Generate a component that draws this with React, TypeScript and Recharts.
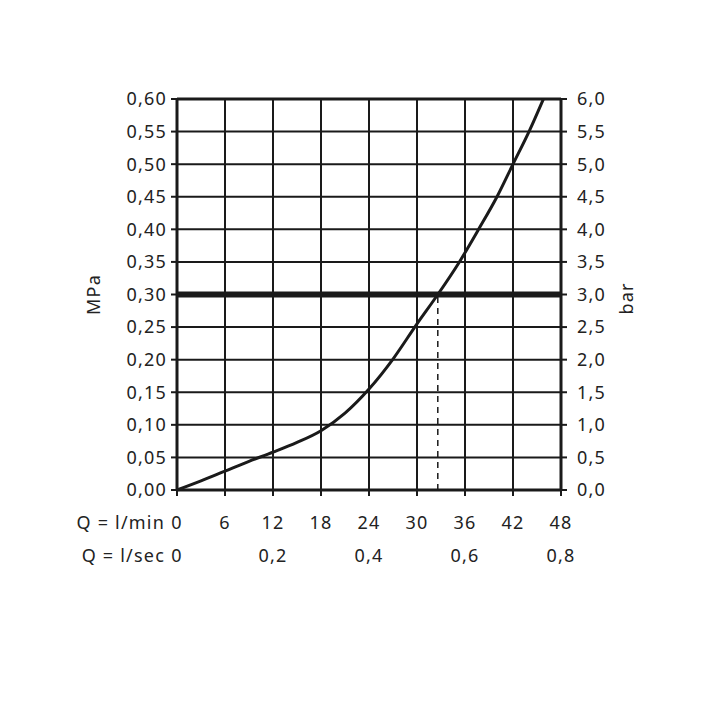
import React from "react";
import {
  LineChart, Line, XAxis, YAxis, CartesianGrid, ReferenceLine,
} from "recharts";

// flow (l/min) vs. pressure loss (MPa)
const flowLmin = [0, 3, 6, 9, 12, 15, 18, 21, 24, 27, 30, 32.6, 35.3, 37.7, 40.0, 42.0, 44.0, 45.8];
const pressureMPa = [0, 0.014, 0.029, 0.044, 0.058, 0.073, 0.091, 0.118, 0.155, 0.201, 0.255, 0.3, 0.35, 0.4, 0.45, 0.5, 0.55, 0.6];

const minTicks = [0, 6, 12, 18, 24, 30, 36, 42, 48];
const secTicks = [0, 12, 24, 36, 48];
const secLabels = ["0", "0,2", "0,4", "0,6", "0,8"];
const mpaTicks = [0, 0.05, 0.1, 0.15, 0.2, 0.25, 0.3, 0.35, 0.4, 0.45, 0.5, 0.55, 0.6];
const barTicks = [0, 0.5, 1, 1.5, 2, 2.5, 3, 3.5, 4, 4.5, 5, 5.5, 6];

const limitMPa = 0.3;
const limitFlow = 32.6;

// 1 MPa = 10 bar
const data = flowLmin.map((q, i) => ({ q, p: pressureMPa[i], pBar: pressureMPa[i] * 10 }));

const INK = "#1a1a1a";
const TXT = "#222";
const FONT = "'Noto Sans', sans-serif";
const FS = 18;
const LS = 1.2;

const comma = (v: number, d: number) => v.toFixed(d).replace(".", ",");

function MinTick(props: any) {
  const { x, y, payload, index } = props;
  return (
    <g>
      {index === 0 && (
        <text x={x - 12} y={y} dy="0.71em" textAnchor="end" fill={TXT} fontSize={FS} letterSpacing={LS}>
          Q = l/min
        </text>
      )}
      <text x={x} y={y} dy="0.71em" textAnchor="middle" fill={TXT} fontSize={FS} letterSpacing={LS}>
        {payload.value}
      </text>
    </g>
  );
}

function SecTick(props: any) {
  const { x, y, payload, index } = props;
  const i = secTicks.indexOf(payload.value);
  return (
    <g>
      {index === 0 && (
        <text x={x - 12} y={y} dy="0.71em" textAnchor="end" fill={TXT} fontSize={FS} letterSpacing={LS}>
          Q = l/sec
        </text>
      )}
      <text x={x} y={y} dy="0.71em" textAnchor="middle" fill={TXT} fontSize={FS} letterSpacing={LS}>
        {secLabels[i]}
      </text>
    </g>
  );
}

function SideTick(props: any) {
  const { x, y, payload, textAnchor, fmt } = props;
  return (
    <text x={x} y={y} dy="0.355em" textAnchor={textAnchor} fill={TXT} fontSize={FS} letterSpacing={LS}>
      {fmt(payload.value)}
    </text>
  );
}

export default function App() {
  return (
    <LineChart
      width={720}
      height={720}
      data={data}
      margin={{ top: 91, right: 107, left: 109, bottom: 148 }}
      style={{ fontFamily: FONT }}
    >
      <CartesianGrid xAxisId="min" yAxisId="mpa" stroke={INK} strokeWidth={2} strokeOpacity={1} />
      <XAxis
        xAxisId="min"
        dataKey="q"
        type="number"
        domain={[0, 48]}
        ticks={minTicks}
        interval={0}
        height={50}
        tickSize={6}
        tickMargin={20}
        axisLine={{ stroke: INK, strokeWidth: 3 }}
        tickLine={{ stroke: INK, strokeWidth: 2 }}
        tick={<MinTick />}
      />
      <XAxis
        xAxisId="sec"
        dataKey="q"
        type="number"
        domain={[0, 48]}
        ticks={secTicks}
        interval={0}
        height={40}
        tickSize={0}
        tickMargin={9}
        axisLine={false}
        tickLine={false}
        tick={<SecTick />}
      />
      <YAxis
        yAxisId="mpa"
        type="number"
        domain={[0, 0.6]}
        ticks={mpaTicks}
        interval={0}
        width={60}
        tickSize={6}
        tickMargin={4}
        axisLine={{ stroke: INK, strokeWidth: 3 }}
        tickLine={{ stroke: INK, strokeWidth: 2 }}
        tick={<SideTick fmt={(v: number) => comma(v, 2)} />}
        label={{
          content: (p: any) => {
            const vb = p.viewBox;
            const cx = vb.x + vb.width - 84;
            const cy = vb.y + vb.height / 2;
            return (
              <text x={cx} y={cy} transform={`rotate(-90 ${cx} ${cy})`} textAnchor="middle" dominantBaseline="central" fill={TXT} fontSize={FS} letterSpacing={LS}>
                MPa
              </text>
            );
          },
        }}
      />
      <YAxis
        yAxisId="bar"
        orientation="right"
        type="number"
        domain={[0, 6]}
        ticks={barTicks}
        interval={0}
        width={60}
        tickSize={6}
        tickMargin={10}
        axisLine={{ stroke: INK, strokeWidth: 3 }}
        tickLine={{ stroke: INK, strokeWidth: 2 }}
        tick={<SideTick fmt={(v: number) => comma(v, 1)} />}
        label={{
          content: (p: any) => {
            const vb = p.viewBox;
            const cx = vb.x + 65;
            const cy = vb.y + vb.height / 2 + 4;
            return (
              <text x={cx} y={cy} transform={`rotate(-90 ${cx} ${cy})`} textAnchor="middle" dominantBaseline="central" fill={TXT} fontSize={FS} letterSpacing={LS}>
                bar
              </text>
            );
          },
        }}
      />
      <ReferenceLine xAxisId="min" yAxisId="mpa" y={0.6} stroke={INK} strokeWidth={3} />
      <ReferenceLine xAxisId="min" yAxisId="mpa" y={limitMPa} stroke={INK} strokeWidth={6} />
      <ReferenceLine
        xAxisId="min"
        yAxisId="mpa"
        segment={[{ x: limitFlow, y: 0 }, { x: limitFlow, y: limitMPa }]}
        stroke={INK}
        strokeWidth={1.5}
        strokeDasharray="6 5"
      />
      {/* same curve in bar, invisible: keeps the right axis bound */}
      <Line
        xAxisId="min"
        yAxisId="bar"
        dataKey="pBar"
        type="monotone"
        stroke="none"
        dot={false}
        activeDot={false}
        isAnimationActive={false}
      />
      <Line
        xAxisId="min"
        yAxisId="mpa"
        dataKey="p"
        type="monotone"
        stroke={INK}
        strokeWidth={3}
        dot={false}
        activeDot={false}
        isAnimationActive={false}
      />
    </LineChart>
  );
}
